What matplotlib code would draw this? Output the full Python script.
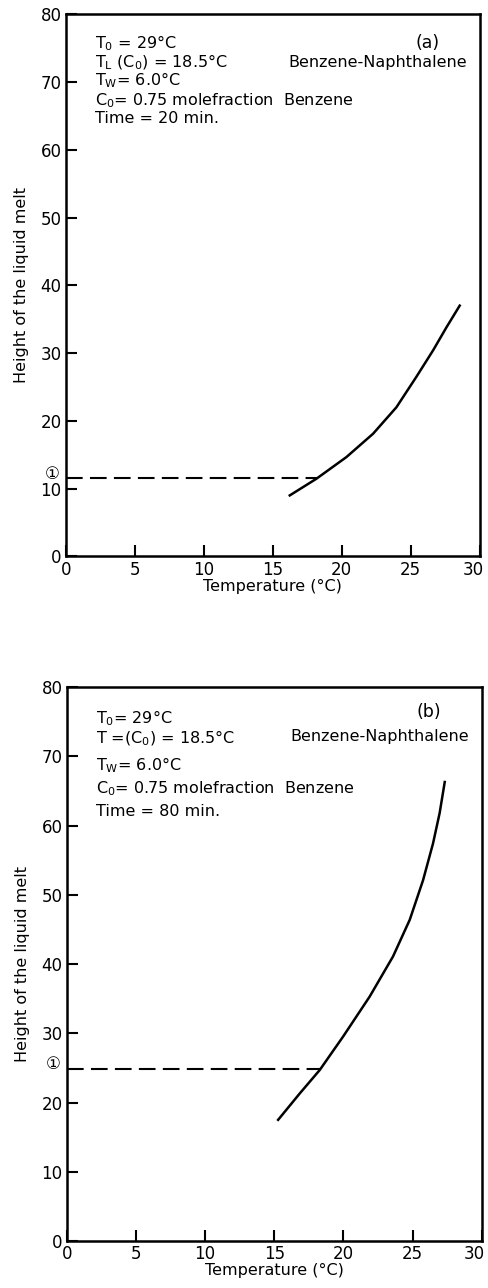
import matplotlib
matplotlib.use('Agg')
import matplotlib.pyplot as plt
import matplotlib.transforms as mtransforms

# curve, temperature (C) vs height of the liquid melt
temp_a = [16.23, 18.17, 20.34, 22.27, 23.96, 25.41, 26.62, 27.59, 28.55]
height_a = [9.0, 11.47, 14.66, 18.1, 22.0, 26.5, 30.4, 33.8, 37.0]
level_a = 11.6   # dashed level (1)
cross_a = 18.2

temp_b = [15.28, 16.84, 18.29, 19.97, 21.9, 23.59, 24.8, 25.76, 26.48, 26.96, 27.33]
height_b = [17.5, 21.3, 24.7, 29.5, 35.3, 41.1, 46.4, 52.1, 57.4, 61.8, 66.3]
level_b = 24.9
cross_b = 18.4

xticks = [0, 5, 10, 15, 20, 25, 30]
yticks = [0, 10, 20, 30, 40, 50, 60, 70, 80]

info_a = [r'T$_0$ = 29°C', r'T$_L$ (C$_0$) = 18.5°C', r'T$_W$= 6.0°C',
          r'C$_0$= 0.75 molefraction  Benzene', 'Time = 20 min.']
info_b = [r'T$_0$= 29°C', r'T =(C$_0$) = 18.5°C', r'T$_W$= 6.0°C',
          r'C$_0$= 0.75 molefraction  Benzene', 'Time = 80 min.']

plt.rcParams['font.family'] = ['DejaVu Sans', 'Noto Sans CJK SC']
plt.rcParams['mathtext.default'] = 'regular'


def setup(ax, fig):
    ax.set_xlim(0, 30)
    ax.set_ylim(0, 80)
    ax.set_xticks(xticks)
    ax.set_yticks(yticks)
    ax.tick_params(direction='in', length=8, width=1.5, labelsize=12, pad=3)
    for s in ax.spines.values():
        s.set_linewidth(1.8)
    ax.set_xlabel('Temperature (°C)', fontsize=11.5, labelpad=0)
    ax.set_ylabel('Height of the liquid melt', fontsize=11.5, labelpad=8)
    # keep the last x label inside the figure
    last = ax.get_xticklabels()[-1]
    last.set_transform(last.get_transform() +
                       mtransforms.ScaledTranslation(-5 / 72, 0, fig.dpi_scale_trans))


def draw(ax, fig, t, h, level, cross, info, ys, tag, tag_y, benz_y):
    setup(ax, fig)
    ax.plot(t, h, color='black', lw=1.8)
    ax.plot([0, cross], [level, level], color='black', lw=1.5, dashes=(8, 3.5))
    ax.text(-1.0, level + 0.6, '①', fontsize=12, ha='center', va='center',
            clip_on=False)
    for s, y in zip(info, ys):
        ax.text(2.1, y, s, fontsize=11.5, va='center')
    ax.text(26.2, tag_y, tag, fontsize=12.5, ha='center', va='center')
    ax.text(29.1, benz_y, 'Benzene-Naphthalene', fontsize=11.5, ha='right',
            va='center')


fig = plt.figure(figsize=(4.88, 12.88), dpi=100)
ax1 = fig.add_axes([0.135, 0.568, 0.848, 0.421])
ax2 = fig.add_axes([0.137, 0.0365, 0.850, 0.430])

draw(ax1, fig, temp_a, height_a, level_a, cross_a, info_a,
     [75.7, 72.9, 70.3, 67.3, 64.6], '(a)', 75.7, 72.9)
draw(ax2, fig, temp_b, height_b, level_b, cross_b, info_b,
     [75.5, 72.6, 68.7, 65.4, 62.0], '(b)', 76.4, 72.8)

fig.savefig('out.png', dpi=100)
